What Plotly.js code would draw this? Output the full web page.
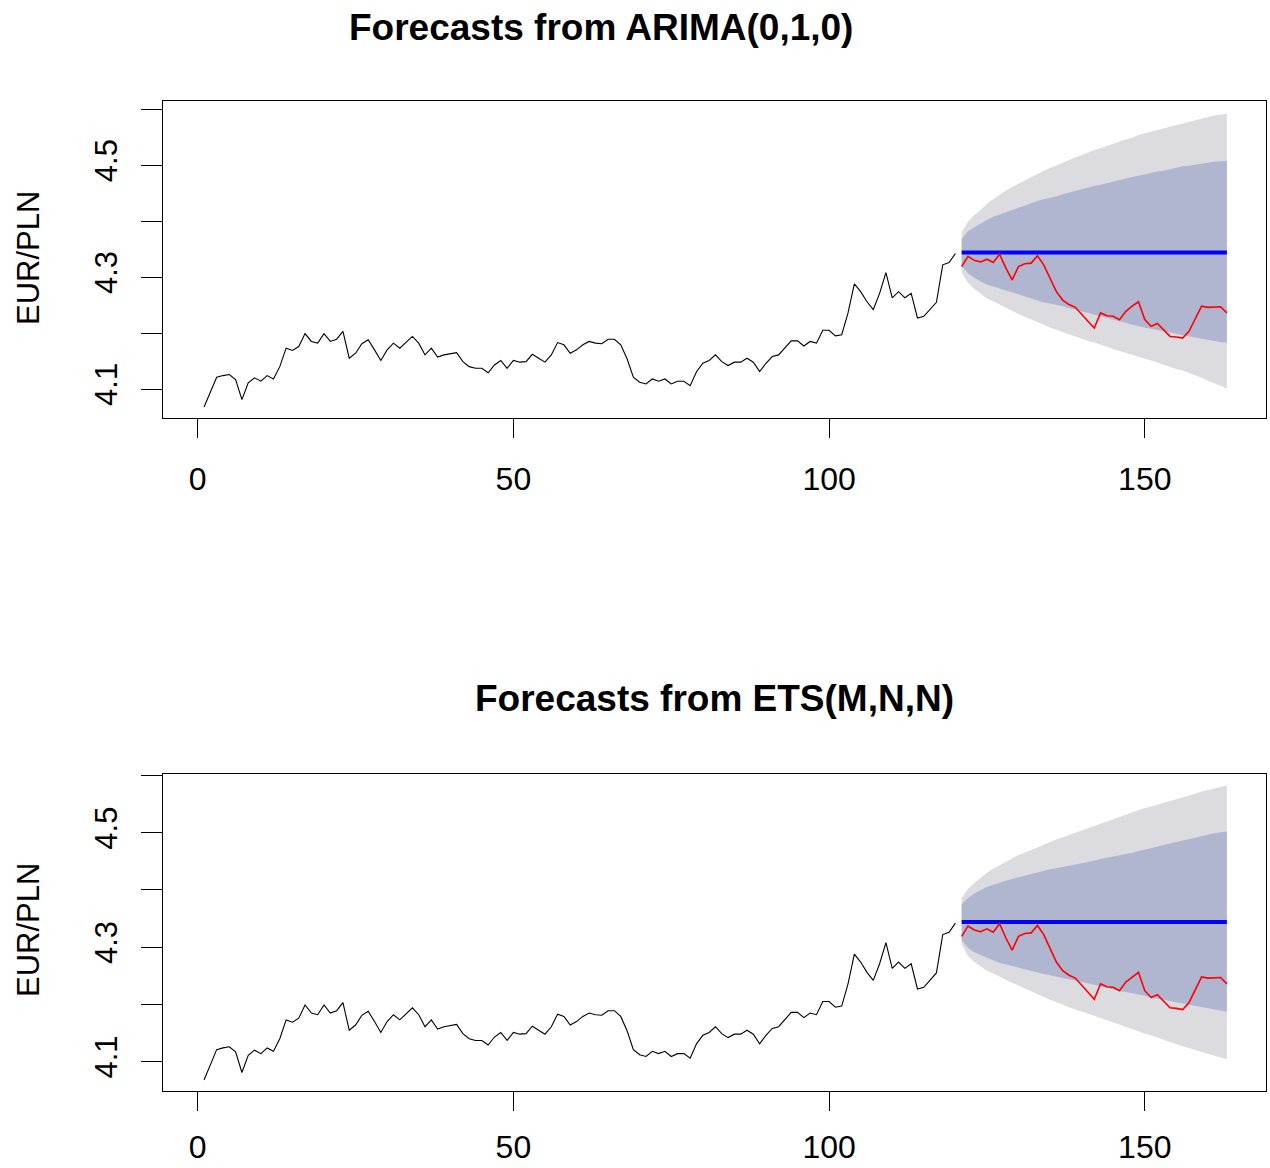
<!DOCTYPE html>
<html>
<head>
<meta charset="utf-8">
<script src="https://cdn.plot.ly/plotly-3.0.1.min.js"></script>
<style>html,body{margin:0;padding:0;background:#fff;}#chart{width:1270px;height:1168px;}</style>
</head>
<body>
<div id="chart"></div>
<script>
// ---- Data ----
const eurpln = [4.068,4.093,4.121,4.124,4.126,4.117,4.081,4.111,4.120,4.114,
4.124,4.118,4.140,4.173,4.169,4.176,4.199,4.185,4.182,4.199,
4.185,4.189,4.203,4.155,4.164,4.181,4.188,4.170,4.151,4.170,
4.182,4.173,4.183,4.194,4.182,4.161,4.173,4.157,4.161,4.163,
4.165,4.149,4.140,4.137,4.137,4.129,4.143,4.151,4.137,4.151,
4.148,4.149,4.162,4.155,4.148,4.161,4.183,4.179,4.164,4.170,
4.179,4.185,4.182,4.181,4.189,4.189,4.179,4.154,4.121,4.112,
4.109,4.118,4.114,4.118,4.109,4.114,4.114,4.106,4.131,4.146,
4.151,4.161,4.149,4.142,4.148,4.148,4.155,4.148,4.131,4.146,
4.158,4.161,4.173,4.186,4.186,4.177,4.185,4.182,4.205,4.205,
4.195,4.197,4.236,4.288,4.274,4.256,4.242,4.271,4.308,4.263,
4.274,4.263,4.271,4.227,4.230,4.242,4.255,4.322,4.326,4.342];

const actualTest = [4.319,4.337,4.330,4.327,4.332,4.326,4.341,4.316,4.295,4.319,
4.324,4.325,4.338,4.322,4.298,4.274,4.259,4.251,4.246,4.233,
4.221,4.209,4.236,4.231,4.230,4.224,4.239,4.248,4.256,4.224,
4.212,4.217,4.206,4.194,4.193,4.191,4.203,4.227,4.248,4.246,
4.246,4.247,4.236];

const arimaMean = [4.344,4.344,4.344,4.344,4.344,4.344,4.344,4.344,4.344,4.344,
4.344,4.344,4.344,4.344,4.344,4.344,4.344,4.344,4.344,4.344,
4.344,4.344,4.344,4.344,4.344,4.344,4.344,4.344,4.344,4.344,
4.344,4.344,4.344,4.344,4.344,4.344,4.344,4.344,4.344,4.344,
4.344,4.344,4.344];
const arimaHi95 = [4.380,4.399,4.411,4.420,4.431,4.439,4.447,4.455,4.461,4.467,
4.472,4.479,4.485,4.490,4.495,4.500,4.505,4.510,4.514,4.518,
4.523,4.527,4.531,4.535,4.539,4.542,4.546,4.549,4.554,4.557,
4.560,4.563,4.566,4.569,4.572,4.575,4.578,4.581,4.584,4.586,
4.589,4.590,4.592];
const arimaLo95 = [4.308,4.290,4.279,4.270,4.262,4.257,4.251,4.245,4.239,4.234,
4.229,4.224,4.220,4.215,4.210,4.206,4.202,4.198,4.193,4.190,
4.186,4.183,4.179,4.176,4.172,4.168,4.165,4.161,4.158,4.154,
4.151,4.147,4.143,4.140,4.136,4.133,4.129,4.125,4.120,4.115,
4.111,4.106,4.101];
const arimaHi80 = [4.368,4.382,4.389,4.396,4.402,4.408,4.412,4.417,4.421,4.425,
4.429,4.432,4.436,4.439,4.441,4.444,4.448,4.451,4.454,4.458,
4.461,4.463,4.465,4.468,4.471,4.474,4.476,4.479,4.481,4.484,
4.486,4.489,4.490,4.493,4.495,4.498,4.499,4.501,4.503,4.505,
4.506,4.507,4.508];
const arimaLo80 = [4.320,4.307,4.299,4.292,4.287,4.283,4.280,4.276,4.273,4.269,
4.265,4.262,4.258,4.255,4.253,4.251,4.248,4.245,4.242,4.238,
4.235,4.232,4.229,4.227,4.224,4.221,4.218,4.215,4.212,4.210,
4.208,4.206,4.204,4.201,4.199,4.196,4.194,4.192,4.189,4.187,
4.186,4.184,4.183];

const etsMean = [4.344,4.344,4.344,4.344,4.344,4.344,4.344,4.344,4.344,4.344,
4.344,4.344,4.344,4.344,4.344,4.344,4.344,4.344,4.344,4.344,
4.344,4.344,4.344,4.344,4.344,4.344,4.344,4.344,4.344,4.344,
4.344,4.344,4.344,4.344,4.344,4.344,4.344,4.344,4.344,4.344,
4.344,4.344,4.344];
const etsHi95 = [4.386,4.402,4.412,4.421,4.430,4.437,4.443,4.450,4.455,4.461,
4.465,4.470,4.475,4.479,4.484,4.488,4.492,4.496,4.500,4.504,
4.508,4.512,4.516,4.520,4.524,4.528,4.532,4.536,4.539,4.543,
4.546,4.549,4.552,4.555,4.558,4.561,4.565,4.568,4.572,4.575,
4.578,4.580,4.582];
const etsLo95 = [4.305,4.284,4.274,4.266,4.259,4.254,4.248,4.243,4.238,4.233,
4.227,4.222,4.217,4.213,4.208,4.204,4.199,4.195,4.191,4.188,
4.184,4.180,4.176,4.172,4.169,4.164,4.161,4.157,4.153,4.149,
4.146,4.142,4.138,4.134,4.131,4.127,4.124,4.120,4.117,4.114,
4.111,4.108,4.104];
const etsHi80 = [4.375,4.386,4.394,4.400,4.405,4.409,4.413,4.416,4.419,4.422,
4.425,4.428,4.431,4.434,4.436,4.438,4.440,4.443,4.444,4.447,
4.449,4.451,4.454,4.456,4.458,4.460,4.462,4.465,4.468,4.470,
4.473,4.476,4.478,4.481,4.484,4.486,4.489,4.491,4.494,4.497,
4.499,4.501,4.502];
const etsLo80 = [4.312,4.299,4.291,4.286,4.281,4.277,4.273,4.270,4.267,4.264,
4.261,4.258,4.256,4.253,4.251,4.248,4.246,4.244,4.241,4.239,
4.237,4.234,4.231,4.229,4.226,4.224,4.222,4.219,4.217,4.215,
4.212,4.210,4.208,4.205,4.203,4.201,4.199,4.198,4.196,4.194,
4.191,4.189,4.187];

const xTickVals = [0, 50, 100, 150];
const xTickText = ['0', '50', '100', '150'];
const yTickVals = [4.1, 4.2, 4.3, 4.4, 4.5, 4.6];
const yTickText = ['4.1', '', '4.3', '', '4.5', ''];
const titles = ['Forecasts from ARIMA(0,1,0)', 'Forecasts from ETS(M,N,N)'];
const yLabel = 'EUR/PLN';

// ---- Build traces ----
const histX = eurpln.map((_, i) => i + 1);
const fcX = actualTest.map((_, i) => eurpln.length + i + 1);

const LIGHT = '#DBDBE0';
const DARK = '#B0B5D0';

function panel(xa, ya, mean, lo95, hi95, lo80, hi80) {
  const base = {xaxis: xa, yaxis: ya, hoverinfo: 'skip', showlegend: false};
  return [
    Object.assign({type: 'scatter', mode: 'lines', x: fcX, y: lo95, line: {width: 0, color: LIGHT}}, base),
    Object.assign({type: 'scatter', mode: 'lines', x: fcX, y: hi95, line: {width: 0, color: LIGHT}, fill: 'tonexty', fillcolor: LIGHT}, base),
    Object.assign({type: 'scatter', mode: 'lines', x: fcX, y: lo80, line: {width: 0, color: DARK}}, base),
    Object.assign({type: 'scatter', mode: 'lines', x: fcX, y: hi80, line: {width: 0, color: DARK}, fill: 'tonexty', fillcolor: DARK}, base),
    Object.assign({type: 'scatter', mode: 'lines', x: histX, y: eurpln, line: {width: 1.1, color: '#000000'}}, base),
    Object.assign({type: 'scatter', mode: 'lines', x: fcX, y: mean, line: {width: 4, color: '#0000FF'}}, base),
    Object.assign({type: 'scatter', mode: 'lines', x: fcX, y: actualTest, line: {width: 1.6, color: '#FF0000'}}, base)
  ];
}

const data = [].concat(
  panel('x', 'y', arimaMean, arimaLo95, arimaHi95, arimaLo80, arimaHi80),
  panel('x2', 'y2', etsMean, etsLo95, etsHi95, etsLo80, etsHi80)
);

const FONT = 'Liberation Sans, Arial, sans-serif';
function xAxis(anchor, standoff) {
  return {
    anchor: anchor, domain: [0, 1], range: [-5.5, 169.2],
    tickmode: 'array', tickvals: xTickVals, ticktext: xTickText,
    ticks: 'outside', ticklen: 19, tickwidth: 1, tickcolor: '#000',
    ticklabelstandoff: standoff,
    showline: true, linecolor: '#000', linewidth: 1, mirror: true,
    showgrid: false, zeroline: false,
    tickfont: {family: FONT, size: 32, color: '#000'}
  };
}
function yAxis(anchor, domain, range) {
  return {
    anchor: anchor, domain: domain, range: range,
    tickmode: 'array', tickvals: yTickVals, ticktext: yTickText, tickangle: -90,
    ticks: 'outside', ticklen: 21, tickwidth: 1, tickcolor: '#000',
    ticklabelstandoff: 12,
    showline: true, linecolor: '#000', linewidth: 1, mirror: true,
    showgrid: false, zeroline: false,
    tickfont: {family: FONT, size: 31, color: '#000'}
  };
}

const layout = {
  width: 1270, height: 1168,
  margin: {l: 163, r: 4, t: 101, b: 77, pad: 0},
  paper_bgcolor: '#fff', plot_bgcolor: '#fff',
  showlegend: false,
  xaxis: xAxis('y', 14),
  yaxis: yAxis('x', [0.6798, 1], [4.0482, 4.6148]),
  xaxis2: xAxis('y2', 9),
  yaxis2: yAxis('x2', [0, 0.3202], [4.0487, 4.6026]),
  annotations: [
    {text: '<b>' + titles[0] + '</b>', xref: 'paper', yref: 'paper', x: 0.397, y: 1.0747,
     xanchor: 'center', yanchor: 'middle', showarrow: false, font: {family: FONT, size: 37, color: '#000'}},
    {text: '<b>' + titles[1] + '</b>', xref: 'paper', yref: 'paper', x: 0.5, y: 0.396,
     xanchor: 'center', yanchor: 'middle', showarrow: false, font: {family: FONT, size: 37, color: '#000'}},
    {text: yLabel, xref: 'paper', yref: 'paper', x: -0.1224, y: 0.8414, textangle: -90,
     xanchor: 'center', yanchor: 'middle', showarrow: false, font: {family: FONT, size: 31, color: '#000'}},
    {text: yLabel, xref: 'paper', yref: 'paper', x: -0.1224, y: 0.1626, textangle: -90,
     xanchor: 'center', yanchor: 'middle', showarrow: false, font: {family: FONT, size: 31, color: '#000'}}
  ]
};

Plotly.newPlot('chart', data, layout, {displayModeBar: false, staticPlot: true});
</script>
</body>
</html>
